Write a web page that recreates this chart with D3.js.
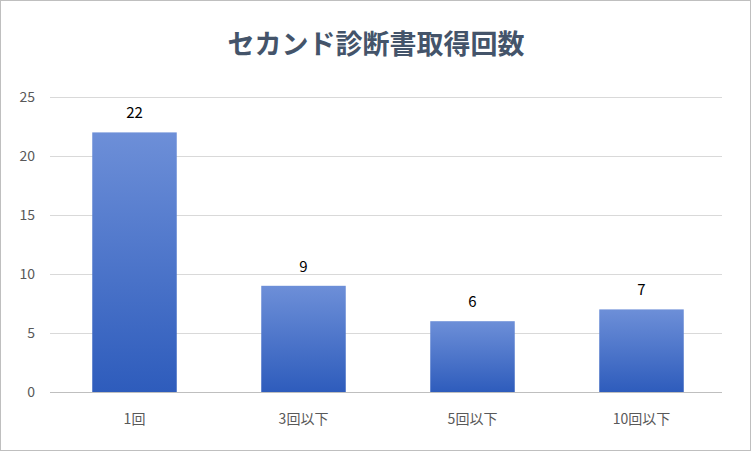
<!DOCTYPE html><html><head><meta charset="utf-8"><script src="https://cdn.jsdelivr.net/npm/d3@7"></script>
<style>body{margin:0;background:#fff}</style></head><body><svg id="c" width="751" height="451"></svg>
<script>
const categories=["1回","3回以下","5回以下","10回以下"];
const values=[22,9,6,7];
const yTicks=[0,5,10,15,20,25];
const title="セカンド診断書取得回数";
const svg=d3.select("#c");
const font="'Noto Sans CJK JP','Noto Sans',sans-serif";
svg.append("rect").attr("x",0.5).attr("y",0.5).attr("width",750).attr("height",450).attr("fill","#fff").attr("stroke","#bfbfbf");
const defs=svg.append("defs");
const g=defs.append("linearGradient").attr("id","gr").attr("x1",0).attr("y1",0).attr("x2",0).attr("y2",1);
g.append("stop").attr("offset","0%").attr("stop-color","#6d8fd8");
g.append("stop").attr("offset","100%").attr("stop-color","#2e5cbc");
const x=d3.scaleBand().domain(categories).range([50,726]).paddingInner(0.5).paddingOuter(0.25);
const y=d3.scaleLinear().domain([0,25]).range([392,97]);
svg.append("g").selectAll("line").data(yTicks).join("line").attr("x1",50).attr("x2",722)
 .attr("y1",d=>y(d)+0.5).attr("y2",d=>y(d)+0.5).attr("stroke",d=>d===0?"#bfbfbf":"#d9d9d9");
svg.append("g").selectAll("text").data(yTicks).join("text").attr("x",35).attr("y",d=>y(d)+5)
 .attr("text-anchor","end").attr("font-family",font).attr("font-size",14).attr("fill","#595959").text(d=>d);
svg.append("g").selectAll("rect").data(values).join("rect").attr("x",(d,i)=>x(categories[i]))
 .attr("width",x.bandwidth()).attr("y",d=>y(d)).attr("height",d=>y(0)-y(d)).attr("fill","url(#gr)");
svg.append("g").selectAll("text").data(values).join("text").attr("x",(d,i)=>x(categories[i])+x.bandwidth()/2)
 .attr("y",d=>y(d)-14).attr("text-anchor","middle").attr("font-family",font).attr("font-size",15).attr("fill","#000").text(d=>d);
svg.append("g").selectAll("text").data(categories).join("text").attr("x",d=>x(d)+x.bandwidth()/2)
 .attr("y",424).attr("text-anchor","middle").attr("font-family",font).attr("font-size",14).attr("fill","#595959").text(d=>d);
svg.append("text").attr("x",376).attr("y",54).attr("text-anchor","middle").attr("font-family",font)
 .attr("font-size",27).attr("font-weight","bold").attr("fill","#44546a").text(title);
</script></body></html>
